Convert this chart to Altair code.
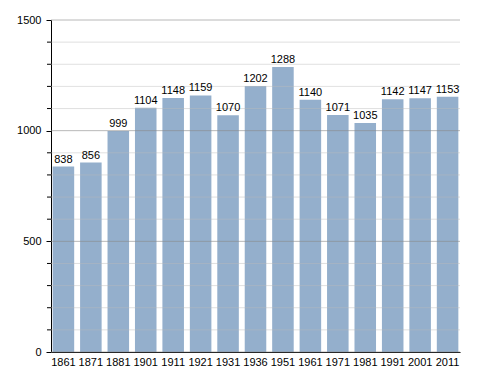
import altair as alt
import pandas as pd

years = ["1861", "1871", "1881", "1901", "1911", "1921", "1931", "1936",
         "1951", "1961", "1971", "1981", "1991", "2001", "2011"]
population = [838, 856, 999, 1104, 1148, 1159, 1070, 1202,
              1288, 1140, 1071, 1035, 1142, 1147, 1153]
major_ticks = [0, 500, 1000, 1500]
minor_ticks = [100, 200, 300, 400, 600, 700, 800, 900, 1100, 1200, 1300, 1400]

df = pd.DataFrame({"year": years, "pop": population})
minor_df = pd.DataFrame({"v": minor_ticks})
major_df = pd.DataFrame({"v": major_ticks})

FONT = "Liberation Sans"

x = alt.X("year:N", sort=years, title=None,
          scale=alt.Scale(paddingInner=0.215, paddingOuter=0.06),
          axis=alt.Axis(labelAngle=0, ticks=False, domainColor="black",
                        labelFont=FONT, labelFontSize=11, labelColor="black",
                        labelPadding=4, domainWidth=1))

y_scale = alt.Scale(domain=[0, 1500], nice=False)
y_axis = alt.Axis(
    values=major_ticks, format="d", labelOverlap=False,
    labelFont=FONT, labelFontSize=11, labelColor="black",
    domainColor="black", tickColor="black", tickSize=5, labelPadding=5,
    grid=False,
)

bars = alt.Chart(df).mark_bar(color="#94afcc").encode(
    x=x,
    y=alt.Y("pop:Q", title=None, scale=y_scale, axis=y_axis),
)

minor_grid = alt.Chart(minor_df).mark_rule(color="#bbbbbb", opacity=0.45, strokeWidth=1).encode(
    y=alt.Y("v:Q", scale=y_scale),
)
minor_tick = alt.Chart(minor_df).mark_rule(color="black", strokeWidth=1).encode(
    y=alt.Y("v:Q", scale=y_scale),
    x=alt.value(-4), x2=alt.value(0),
)
major_grid = alt.Chart(major_df).mark_rule(color="#888888", opacity=0.6, strokeWidth=1).encode(
    y=alt.Y("v:Q", scale=y_scale),
)

labels = alt.Chart(df).mark_text(dy=-7, font=FONT, fontSize=11, color="black").encode(
    x=alt.X("year:N", sort=years),
    y=alt.Y("pop:Q", scale=y_scale),
    text="pop:Q",
)

chart = (bars + minor_grid + major_grid + minor_tick + labels).properties(
    width=409, height=332,
    padding={"left": 8, "top": 6, "right": 5, "bottom": 5},
).configure_view(stroke=None)

chart.save("out.html", embed_options={"renderer": "svg", "actions": False})
